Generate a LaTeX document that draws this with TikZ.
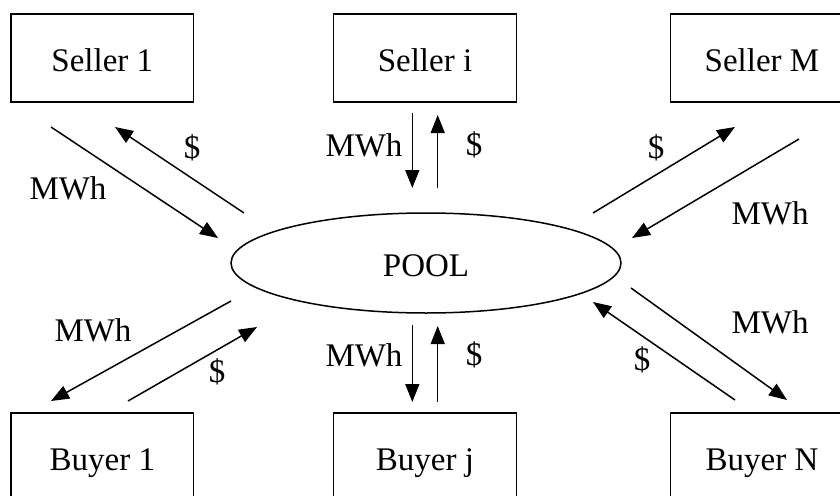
\documentclass[tikz,border=0pt]{standalone}
\usepackage{fontspec}
\setmainfont{Liberation Serif}
\usetikzlibrary{shapes.geometric,arrows.meta}

\begin{document}
\begin{tikzpicture}[x=1pt,y=-1pt,
  every node/.style={font=\fontsize{33}{40}\selectfont},
  party/.style={draw, line width=1.2pt, rectangle, minimum width=182.7pt,
    minimum height=88pt, inner sep=0pt, text height=26pt, text depth=0pt},
  pool/.style={draw, line width=1.5pt, ellipse, minimum width=390pt,
    minimum height=100pt, inner sep=0pt, text height=26pt, text depth=0pt},
  flow/.style={line width=1.5pt, -{Triangle[length=18pt,width=14pt]}},
  lbl/.style={inner sep=0pt}]

\useasboundingbox (0,0) rectangle (840,495);
\clip (0,0) rectangle (840,495);

% market participants
\node[party] (s1) at (102.3,58) {Seller 1};
\node[party] (si) at (425,58) {Seller i};
\node[party] (sm) at (762,58) {Seller M};
\node[party] (b1) at (102.3,457) {Buyer 1};
\node[party] (bj) at (425,457) {Buyer j};
\node[party] (bn) at (762,457) {Buyer N};

% central pool
\node[pool] (pool) at (426,263) {POOL};

% flow end points
\coordinate (s1e1) at (51,127);   \coordinate (s1e2) at (218,238);
\coordinate (s1m1) at (244,213);  \coordinate (s1m2) at (115,127);
\coordinate (sie1) at (412.3,113); \coordinate (sie2) at (412.3,188);
\coordinate (sim1) at (437.7,188); \coordinate (sim2) at (437.7,115);
\coordinate (smm1) at (593,213);  \coordinate (smm2) at (735,127);
\coordinate (sme1) at (799,139);  \coordinate (sme2) at (632,238);
\coordinate (b1e1) at (231,301);  \coordinate (b1e2) at (51,401);
\coordinate (b1m1) at (128,401);  \coordinate (b1m2) at (257,327);
\coordinate (bje1) at (412.3,325); \coordinate (bje2) at (412.3,402);
\coordinate (bjm1) at (437.7,402); \coordinate (bjm2) at (437.7,326);
\coordinate (bne1) at (631,288);  \coordinate (bne2) at (787,400);
\coordinate (bnm1) at (735,400);  \coordinate (bnm2) at (593,302);

% energy and money flows
\draw[flow] (s1e1) -- (s1e2);
\draw[flow] (s1m1) -- (s1m2);
\draw[flow] (sie1) -- (sie2);
\draw[flow] (sim1) -- (sim2);
\draw[flow] (smm1) -- (smm2);
\draw[flow] (sme1) -- (sme2);
\draw[flow] (b1e1) -- (b1e2);
\draw[flow] (b1m1) -- (b1m2);
\draw[flow] (bje1) -- (bje2);
\draw[flow] (bjm1) -- (bjm2);
\draw[flow] (bne1) -- (bne2);
\draw[flow] (bnm1) -- (bnm2);

% flow labels
\node[lbl] (l1) at (68,188) {MWh};
\node[lbl] (l2) at (192,148) {\$};
\node[lbl] (l3) at (364,145) {MWh};
\node[lbl] (l4) at (474,145) {\$};
\node[lbl] (l5) at (656,148) {\$};
\node[lbl] (l6) at (770,213) {MWh};
\node[lbl] (l7) at (93,330) {MWh};
\node[lbl] (l8) at (217,372) {\$};
\node[lbl] (l9) at (364,355) {MWh};
\node[lbl] (l10) at (474,355) {\$};
\node[lbl] (l11) at (770,322) {MWh};
\node[lbl] (l12) at (642,360) {\$};
\end{tikzpicture}
\end{document}
